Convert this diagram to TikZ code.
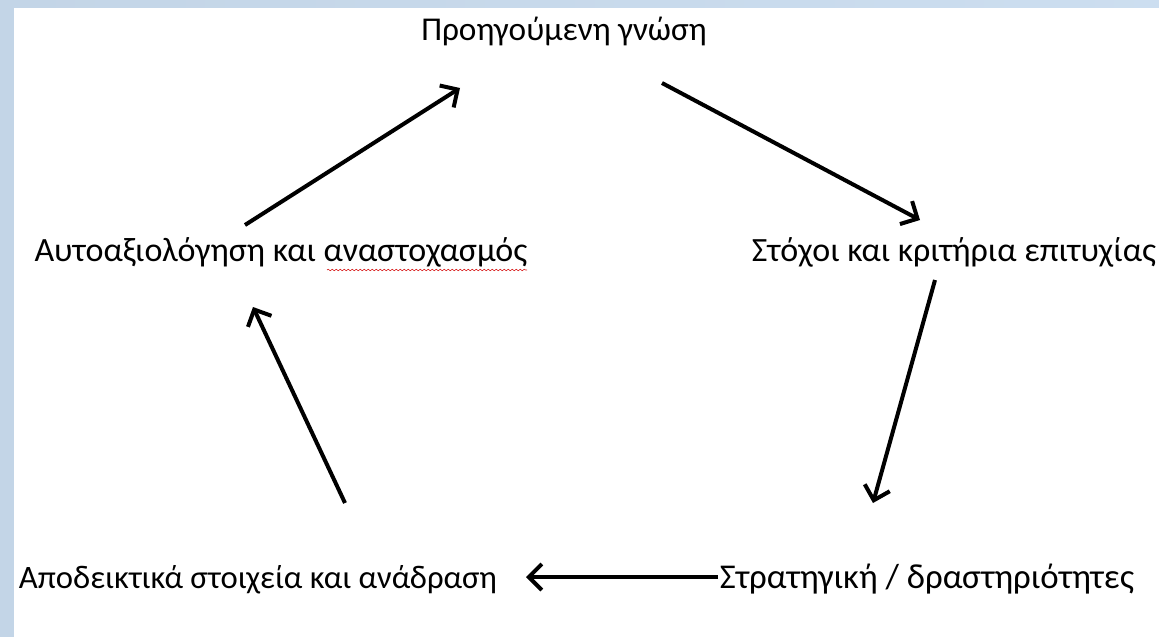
\documentclass[tikz,border=0pt]{standalone}
\usepackage{fontspec}
\setmainfont{Carlito}
\usetikzlibrary{arrows.meta,decorations.pathmorphing}
\definecolor{FrameClr}{rgb}{0.765,0.835,0.905}
\definecolor{FrameClrB}{rgb}{0.80,0.87,0.94}
\definecolor{SpellClr}{rgb}{0.85,0.15,0.15}

\begin{document}
\begin{tikzpicture}[x=1pt,y=-1pt]
\tikzset{
  stage/.style={inner sep=0pt,anchor=base,font=\fontsize{34}{40}\selectfont},
  cyc/.style={line width=4pt,-{Straight Barb[length=13pt,width=26pt,line width=4pt]}}
}
\useasboundingbox (0,0) rectangle (1159,637);

% frame
\shade[left color=FrameClr,right color=FrameClrB] (0,0) rectangle (1159,7);
\fill[FrameClr] (0,0) rectangle (14,637);

\node[stage,font=\fontsize{33.3}{40}\selectfont] (pre) at (564,40) {Προηγούμενη γνώση};
\node[stage] (goal) at (954,261) {Στόχοι και κριτήρια επιτυχίας};
\node[stage,font=\fontsize{34.8}{40}\selectfont] (strat) at (927,588) {Στρατηγική / δραστηριότητες};
\node[stage,font=\fontsize{32.7}{40}\selectfont] (evid) at (258,588) {Αποδεικτικά στοιχεία και ανάδραση};
\node[stage] (self) at (281,261) {Αυτοαξιολόγηση και αναστοχασμός};

% spell-check underline
\draw[SpellClr,line width=0.6pt,decorate,decoration={snake,amplitude=0.8pt,segment length=4pt}]
  ([shift={(46,9)}]self.base) -- ([shift={(246,9)}]self.base);

\draw[cyc] ([shift={(-36,-36)}]self.base) -- ([shift={(-104,48)}]pre.base);
\draw[cyc] ([shift={(98,43)}]pre.base) -- ([shift={(-34,-41)}]goal.base);
\draw[cyc] ([shift={(-19,19)}]goal.base) -- ([shift={(-54,-85)}]strat.base);
\draw[cyc] ([shift={(-209,-11)}]strat.base) -- ([shift={(268,-11)}]evid.base);
\draw[cyc] ([shift={(87,-85)}]evid.base) -- ([shift={(-28,46)}]self.base);

\end{tikzpicture}
\end{document}
